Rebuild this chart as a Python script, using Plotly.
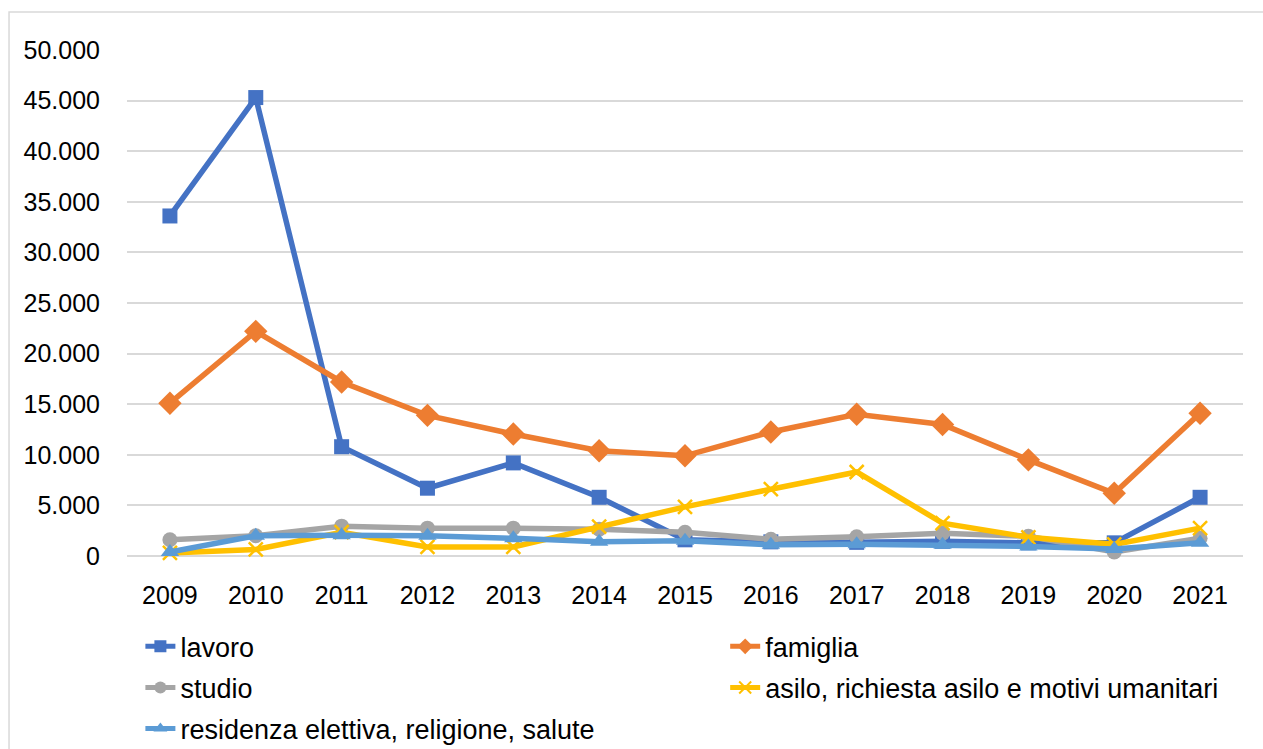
import plotly.graph_objects as go

years = [2009, 2010, 2011, 2012, 2013, 2014, 2015, 2016, 2017, 2018, 2019, 2020, 2021]
lavoro = [33600, 45300, 10800, 6700, 9200, 5800, 1600, 1400, 1350, 1450, 1300, 1300, 5800]
famiglia = [15100, 22200, 17200, 13900, 12050, 10400, 9900, 12250, 14000, 13000, 9500, 6200, 14100]
studio = [1600, 2000, 2950, 2750, 2750, 2650, 2350, 1650, 1900, 2250, 1950, 400, 1750]
asilo = [300, 650, 2350, 900, 900, 2900, 4850, 6600, 8300, 3250, 1850, 1150, 2750]
residenza = [400, 2000, 2050, 2000, 1750, 1400, 1500, 1100, 1150, 1100, 950, 700, 1300]

series = [
    ("lavoro", lavoro, "#4472C4", "square", 15, "legend", 1),
    ("famiglia", famiglia, "#ED7D31", "diamond", 18, "legend2", 1),
    ("studio", studio, "#A5A5A5", "circle", 15, "legend", 2),
    ("asilo, richiesta asilo e motivi umanitari", asilo, "#FFC000", "x-thin", 14, "legend2", 2),
    ("residenza elettiva, religione, salute", residenza, "#5B9BD5", "triangle-up", 16, "legend", 3),
]

fig = go.Figure()
for name, vals, color, sym, size, leg, rank in series:
    fig.add_trace(go.Scatter(
        x=years, y=vals, name=name, mode="lines+markers",
        line=dict(color=color, width=5.5),
        marker=dict(symbol=sym, size=size, color=color,
                    line=dict(color=color, width=2.5 if sym == "x-thin" else 0)),
        cliponaxis=False, legend=leg, legendgroup=name, legendrank=rank,
    ))

font_family = "Liberation Sans, Arial, sans-serif"
leg_common = dict(
    orientation="v", yanchor="top", y=-0.131, xanchor="left",
    font=dict(family=font_family, size=27, color="#000000"),
    bgcolor="rgba(0,0,0,0)", itemsizing="constant", tracegroupgap=3,
    traceorder="grouped",
)
fig.update_layout(
    width=1263, height=749,
    margin=dict(l=127, r=20, t=50, b=193, autoexpand=False),
    paper_bgcolor="white", plot_bgcolor="white",
    separators=",.",
    font=dict(family=font_family, size=25, color="#000000"),
    showlegend=True,
    legend=dict(x=0.012, **leg_common),
    legend2=dict(x=0.536, **leg_common),
    xaxis=dict(
        range=[2008.5, 2021.5], tickmode="array", tickvals=years,
        ticktext=[str(y) for y in years], showgrid=False, zeroline=False,
        showline=False, ticks="", ticklabelstandoff=22,
        tickfont=dict(size=25),
    ),
    yaxis=dict(
        range=[0, 50000], dtick=5000, tickformat=",d",
        showgrid=True, gridcolor="#D9D9D9", gridwidth=1.5,
        zeroline=True, zerolinecolor="#D9D9D9", zerolinewidth=1.5,
        showline=False, ticks="", ticklabelstandoff=26,
        tickfont=dict(size=25),
    ),
    shapes=[dict(
        type="rect", xref="paper", yref="paper",
        x0=-0.1057, x1=1.05, y0=-0.4, y1=1.0751,
        line=dict(color="#D9D9D9", width=1.5), fillcolor="rgba(0,0,0,0)",
        layer="below",
    )],
)

fig.write_html("out.html")
